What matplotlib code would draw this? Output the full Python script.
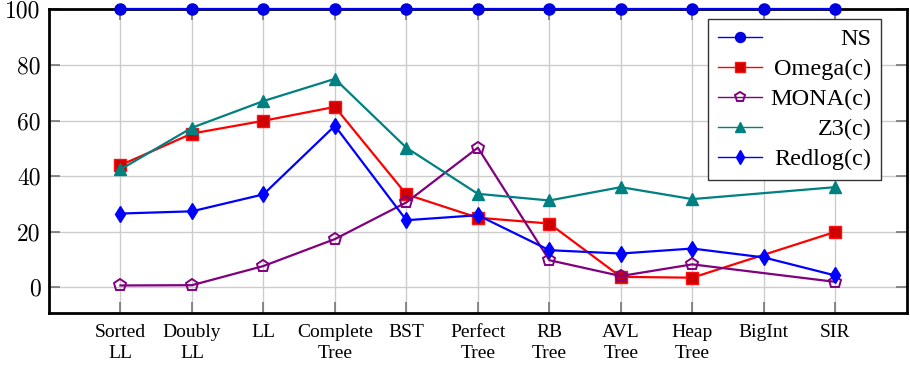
import numpy as np
import matplotlib
matplotlib.use("Agg")
import matplotlib.pyplot as plt
from matplotlib.lines import Line2D

categories = ["Sorted\nLL", "Doubly\nLL", "LL", "Complete\nTree", "BST", "Perfect\nTree",
              "RB\nTree", "AVL\nTree", "Heap\nTree", "BigInt", "SIR"]
ns = [100, 100, 100, 100, 100, 100, 100, 100, 100, 100, 100]
omega = [43.9, 55.3, 59.9, 64.9, 33.4, 25.0, 22.9, 3.7, 3.4, None, 19.9]
mona = [0.6, 0.7, 7.6, 17.3, 30.5, 50.2, 9.7, 4.0, 8.2, None, 1.9]
z3 = [42.4, 57.4, 67.0, 75.0, 50.2, 33.6, 31.2, 36.0, 31.7, None, 36.0]
redlog = [26.5, 27.3, 33.4, 58.1, 24.1, 25.9, 13.3, 12.1, 13.9, 10.7, 4.2]
yticks = [0, 20, 40, 60, 80, 100]

fig = plt.figure(figsize=(9.1, 3.77), dpi=100)
ax = fig.add_axes([0.0538, 0.1706, 0.9426, 0.8044])

def xy(vals):
    xs = [i for i, v in enumerate(vals) if v is not None]
    ys = [v for v in vals if v is not None]
    return xs, ys

series = [
    ("NS", ns, dict(color="#0000ff", marker="o", markerfacecolor="#0000e0", markeredgecolor="#0000e0"), 8, 7.2),
    ("Omega(c)", omega, dict(color="#ff0000", marker="s", markerfacecolor="#d00000", markeredgecolor="#ff1010"), 9, 7.6),
    ("MONA(c)", mona, dict(color="#800080", marker="p", markerfacecolor="none", markeredgecolor="#800080", markeredgewidth=1.4), 9, 7.5),
    ("Z3(c)", z3, dict(color="#008080", marker="^", markerfacecolor="#008080", markeredgecolor="#008080"), 8.5, 7),
    ("Redlog(c)", redlog, dict(color="#0000ff", marker="d", markerfacecolor="#0000ff", markeredgecolor="#0000ff"), 8.5, 7.2),
]
handles = []
for k, (label, vals, st, ms, lms) in enumerate(series):
    xs, ys = xy(vals)
    ax.plot(xs, ys, label=label, lw=1.6, markersize=ms, clip_on=False, zorder=3 + k, **st)
    handles.append(Line2D([], [], lw=1.0, markersize=lms, label=label, **st))

ax.set_xlim(-1, 11)
ax.set_ylim(-9.2, 100)
ax.set_xticks(range(len(categories)))
ax.set_xticklabels(categories, fontsize=14, family="Liberation Serif", linespacing=1.35)
ax.set_yticks(yticks)
ax.set_yticklabels([str(t) for t in yticks], fontsize=17, family="cmr10")
ax.grid(True, color="#cccccc", lw=1.0, zorder=0)
ax.set_axisbelow(True)
ax.tick_params(axis="both", direction="in", length=8, width=1.2, color="#777777",
               left=True, right=True, bottom=True, top=True)
ax.tick_params(axis="x", pad=8)
ax.tick_params(axis="y", pad=6)
for s in ax.spines.values():
    s.set_linewidth(2.0)
    s.set_color("black")

leg = ax.legend(handles=handles, loc="upper right", bbox_to_anchor=(0.970, 0.970), fancybox=False,
                edgecolor="#333333", framealpha=1, numpoints=1, handlelength=1.8,
                prop={"family": "Liberation Serif", "size": 17.5}, labelspacing=0.33,
                borderpad=0.4, handletextpad=0.35, borderaxespad=0)
leg.get_frame().set_linewidth(1.0)
leg.set_zorder(20)

fig.canvas.draw()
texts = leg.get_texts()
widths = [t.get_window_extent().width for t in texts]
mw = max(widths)
for t, w in zip(texts, widths):
    t.set_position((mw - w, 0))

fig.savefig("out.png", dpi=100)
